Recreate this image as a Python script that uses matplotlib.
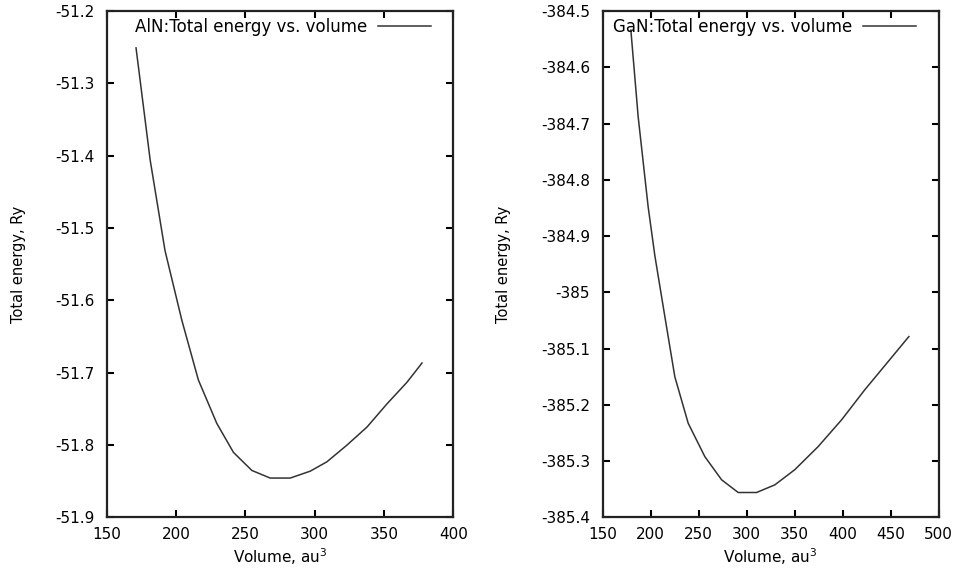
import matplotlib
matplotlib.use("Agg")
import matplotlib.pyplot as plt
from matplotlib.ticker import FuncFormatter

plt.rcParams['font.family'] = ['DejaVu Sans']
plt.rcParams['mathtext.fontset'] = 'dejavusans'

# AlN data
aln_volume = [171.1, 181.3, 192.0, 204.1, 216.1, 229.4, 241.4, 254.7, 267.9,
              282.4, 296.8, 308.9, 323.3, 337.8, 352.2, 366.7, 377.5]
aln_energy = [-51.251, -51.406, -51.531, -51.627, -51.710, -51.770, -51.810, -51.835, -51.8455,
              -51.8455, -51.836, -51.823, -51.800, -51.775, -51.743, -51.713, -51.6865]

# GaN data
gan_volume = [179.5, 187.1, 197.5, 204.5, 214.9, 225.3, 239.2, 256.6, 274.0,
              291.3, 310.4, 329.5, 350.3, 374.6, 399.0, 423.2, 447.5, 469.1]
gan_energy = [-384.534, -384.688, -384.848, -384.935, -385.043, -385.150, -385.2325, -385.292, -385.333,
              -385.3556, -385.3556, -385.342, -385.315, -385.274, -385.2265, -385.173, -385.123, -385.0785]

aln_xticks = [150, 200, 250, 300, 350, 400]
aln_yticks = [-51.9, -51.8, -51.7, -51.6, -51.5, -51.4, -51.3, -51.2]
gan_xticks = [150, 200, 250, 300, 350, 400, 450, 500]
gan_yticks = [-385.4, -385.3, -385.2, -385.1, -385.0, -384.9, -384.8, -384.7, -384.6, -384.5]

aln_label = "AlN:Total energy vs. volume"
gan_label = "GaN:Total energy vs. volume"
xlabel = "Volume, au$^3$"
ylabel = "Total energy, Ry"

fig = plt.figure(figsize=(9.63, 5.72), dpi=100)
ax1 = fig.add_axes([0.1109, 0.0953, 0.3597, 0.8855])
ax2 = fig.add_axes([0.6257, 0.0953, 0.3489, 0.8855])

fmt = FuncFormatter(lambda v, p: ('%g' % round(v, 4)))
line_color = '#333333'

def style(ax, xt, yt, x, y, label, ylab_x, leg_x):
    ax.plot(x, y, color=line_color, lw=1.1, label=label)
    ax.set_xlim(xt[0], xt[-1])
    ax.set_ylim(yt[0], yt[-1])
    ax.set_xticks(xt)
    ax.set_yticks(yt)
    ax.xaxis.set_major_formatter(fmt)
    ax.yaxis.set_major_formatter(fmt)
    ax.tick_params(direction='in', length=5, width=1.5, top=True, right=True,
                   labelsize=11, colors='black', pad=9)
    ax.tick_params(axis='x', pad=7)
    for s in ax.spines.values():
        s.set_linewidth(1.6)
        s.set_color('#222222')
    ax.set_xlabel(xlabel, fontsize=11, labelpad=3)
    ax.set_ylabel(ylabel, fontsize=10.5)
    ax.yaxis.set_label_coords(ylab_x, 0.5)
    ax.legend(loc='upper right', frameon=False, markerfirst=False,
              handlelength=3.2, handletextpad=0.6, fontsize=12,
              borderaxespad=0, borderpad=0, bbox_to_anchor=(leg_x, 0.987))

style(ax1, aln_xticks, aln_yticks, aln_volume, aln_energy, aln_label, -0.233, 0.936)
style(ax2, gan_xticks, gan_yticks, gan_volume, gan_energy, gan_label, -0.272, 0.933)

fig.savefig("out.png", dpi=100)
